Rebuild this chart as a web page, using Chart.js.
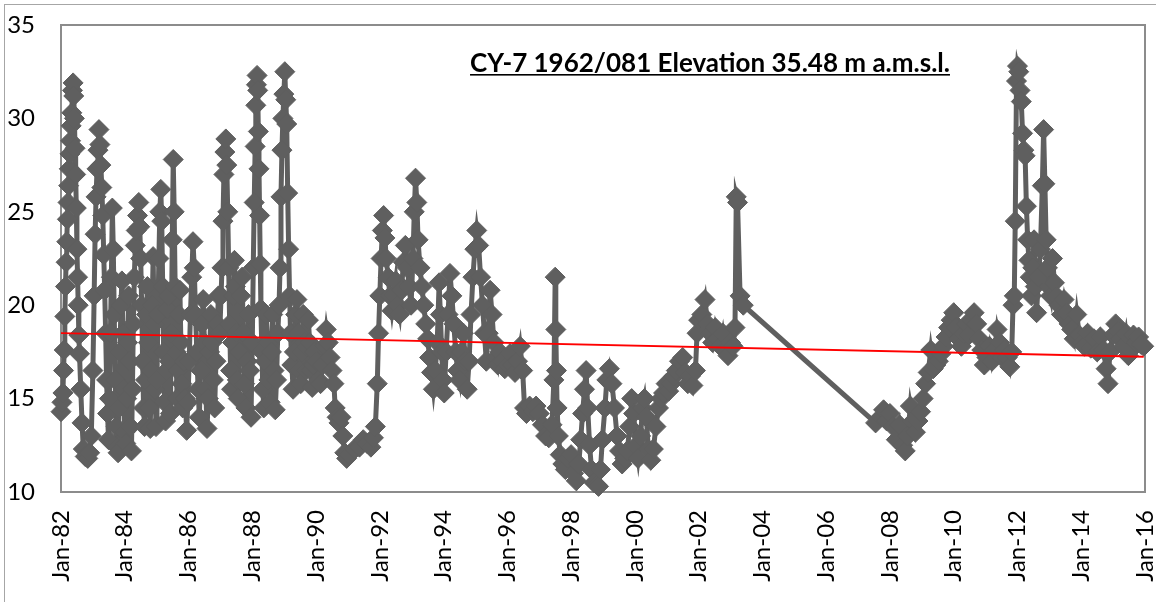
<!DOCTYPE html>
<html>
<head>
<meta charset="utf-8">
<script src="https://cdn.jsdelivr.net/npm/chart.js@4/dist/chart.umd.min.js"></script>
<style>
  html, body { margin: 0; padding: 0; background: #ffffff; }
  #wrap { position: absolute; left: 0; top: 0; width: 1156px; height: 602px; }
</style>
</head>
<body>
<div id="wrap"><canvas id="c" width="1156" height="602"></canvas></div>
<script>
// ---- Data (decimal years, water level) ----
const years = [
1982.00,1982.03,1982.06,1982.08,1982.10,1982.12,1982.14,1982.16,1982.18,1982.20,1982.22,1982.24,1982.26,1982.28,1982.30,1982.32,1982.34,1982.36,1982.38,1982.40,1982.42,1982.44,1982.46,1982.48,1982.50,1982.52,1982.54,1982.56,1982.58,1982.62,1982.66,1982.70,1982.76,1982.84,1982.90,
1982.95,1983.00,1983.04,1983.07,1983.10,1983.13,1983.16,1983.19,1983.22,1983.25,
1983.28,1983.31,1983.34,1983.37,1983.40,1983.43,1983.46,1983.49,1983.52,1983.55,
1983.58,1983.61,1983.64,1983.67,1983.70,1983.73,1983.76,1983.79,1983.82,1983.85,
1983.88,1983.91,1983.94,1983.97,1984.00,1984.03,1984.06,1984.09,1984.12,1984.15,
1984.18,1984.21,1984.24,1984.27,1984.30,1984.33,1984.36,1984.40,1984.44,1984.47,
1984.50,1984.53,1984.56,1984.59,1984.62,1984.65,1984.68,1984.71,1984.74,1984.77,
1984.80,1984.83,1984.86,1984.89,1984.92,1984.95,1984.98,1985.01,1985.04,1985.07,
1985.10,1985.13,1985.16,1985.19,1985.22,1985.25,1985.28,1985.31,1985.34,1985.37,
1985.40,1985.43,1985.46,1985.49,1985.52,1985.55,1985.58,1985.61,1985.64,1985.67,
1985.70,1985.73,1985.76,1985.79,1985.82,1985.86,1985.90,1985.94,1985.98,1986.02,
1986.06,1986.10,1986.14,1986.18,1986.22,1986.26,1986.30,1986.34,1986.38,1986.42,
1986.46,1986.50,1986.54,1986.58,1986.62,1986.66,1986.70,1986.74,1986.78,1986.82,
1986.86,1986.90,1986.94,1986.98,1987.02,1987.05,1987.08,1987.11,1987.14,1987.17,
1987.20,1987.23,1987.26,1987.29,1987.32,1987.35,1987.38,1987.41,1987.44,1987.47,
1987.50,1987.53,1987.56,1987.60,1987.64,1987.68,1987.72,1987.76,1987.80,1987.84,
1987.88,1987.92,1987.96,
1988.00,1988.03,1988.06,1988.09,1988.11,1988.13,1988.15,1988.17,1988.19,1988.21,
1988.23,1988.25,1988.27,1988.30,1988.33,1988.36,1988.40,1988.44,1988.48,1988.52,
1988.56,1988.60,1988.64,1988.68,1988.72,1988.76,1988.80,1988.84,1988.87,1988.90,
1988.93,1988.96,1988.99,1989.02,1989.05,1989.08,1989.11,1989.14,1989.17,1989.20,
1989.24,1989.28,1989.32,1989.36,1989.40,1989.44,1989.48,1989.52,1989.56,1989.60,
1989.64,1989.68,1989.72,1989.76,1989.80,1989.84,1989.88,1989.92,1989.96,
1990.02,1990.08,1990.14,1990.20,1990.26,1990.32,1990.38,1990.44,1990.50,1990.56,1990.60,1990.66,1990.72,1990.78,1990.84,1990.90,1990.96,1991.04,1991.20,1991.36,1991.48,1991.60,1991.72,1991.80,1991.86,1991.92,1991.96,
1992.00,1992.04,1992.08,1992.12,1992.16,1992.20,1992.26,1992.32,1992.38,1992.44,1992.50,1992.56,1992.62,1992.68,1992.74,1992.80,1992.86,1992.92,1992.98,1993.04,1993.08,1993.12,1993.16,1993.20,1993.26,1993.32,1993.38,1993.44,1993.50,1993.56,1993.62,1993.68,1993.74,1993.80,1993.86,1993.90,1993.94,1993.98,
1994.02,1994.08,1994.14,1994.20,1994.26,1994.32,1994.38,1994.44,1994.50,1994.56,1994.62,1994.68,1994.74,1994.80,1994.86,1994.92,1994.98,1995.04,1995.10,1995.16,1995.22,1995.28,1995.34,1995.40,1995.46,1995.52,1995.58,1995.64,1995.70,1995.76,1995.84,1995.92,
1996.00,1996.08,1996.16,1996.24,1996.32,1996.40,1996.48,1996.54,1996.60,1996.70,1996.80,1996.90,1997.00,1997.10,1997.20,1997.30,1997.40,1997.46,1997.50,1997.52,1997.54,1997.56,1997.60,1997.66,1997.74,1997.82,1997.90,
1998.00,1998.08,1998.16,1998.24,1998.30,1998.36,1998.42,1998.47,1998.52,1998.58,1998.64,1998.72,1998.80,1998.86,1998.92,1998.98,1999.06,1999.12,1999.20,1999.28,1999.36,1999.44,1999.52,1999.60,1999.68,1999.76,1999.84,1999.90,1999.96,
2000.04,2000.10,2000.18,2000.24,2000.30,2000.36,2000.42,2000.50,2000.58,2000.66,2000.74,2000.82,2000.90,2000.98,2001.06,2001.14,2001.22,2001.30,2001.40,2001.50,2001.58,2001.66,2001.74,2001.82,2001.90,2001.95,
2002.00,2002.10,2002.20,2002.28,2002.36,2002.44,2002.52,2002.60,2002.68,2002.76,2002.84,2002.92,2003.00,2003.08,2003.14,2003.18,2003.22,2003.30,2003.40,
2007.55,2007.70,2007.80,2007.90,2008.00,2008.10,2008.20,2008.30,2008.40,2008.48,2008.56,2008.64,2008.72,2008.80,2008.88,2008.96,2009.04,2009.12,2009.20,2009.28,2009.36,2009.44,2009.52,2009.60,2009.68,2009.76,2009.84,2009.92,
2010.00,2010.08,2010.16,2010.24,2010.32,2010.40,2010.48,2010.56,2010.64,2010.72,2010.80,2010.88,2010.96,2011.04,2011.12,2011.20,2011.28,2011.36,2011.44,2011.52,2011.60,2011.68,2011.76,2011.82,2011.86,2011.90,2011.93,2011.97,
2012.00,2012.04,2012.08,2012.12,2012.16,2012.20,2012.24,2012.28,2012.32,2012.36,2012.40,2012.44,2012.48,2012.52,2012.56,2012.60,2012.66,2012.72,2012.78,2012.82,2012.86,2012.90,2012.94,2012.98,
2013.04,2013.10,2013.16,2013.22,2013.30,2013.38,2013.46,2013.54,2013.62,2013.70,2013.78,2013.86,2013.94,2014.02,2014.10,2014.20,2014.30,2014.40,2014.50,2014.60,2014.70,2014.78,2014.84,2014.90,
2015.00,2015.08,2015.16,2015.24,2015.32,2015.40,2015.48,2015.56,2015.64,2015.72,2015.80,2015.88,2015.96
];
const levels = [
14.3,14.8,15.3,16.5,17.6,19.4,21.0,22.3,23.4,24.6,25.5,26.4,27.3,28.1,28.8,29.6,30.3,31.5,31.9,31.2,30.0,28.4,27.0,25.2,23.0,21.5,20.0,18.4,17.4,15.5,13.7,12.3,11.9,11.8,12.1,
13.0,16.5,20.5,23.8,25.8,27.3,28.3,29.4,28.6,27.5,
26.3,24.8,22.7,20.8,18.5,16.0,14.2,12.8,15.0,18.5,
21.5,25.2,23.0,19.5,16.0,13.5,12.4,12.1,14.5,17.5,
20.0,21.3,18.5,15.5,13.2,12.6,15.0,18.0,20.5,17.0,
13.5,12.2,15.5,19.0,21.5,23.2,24.0,24.8,25.5,24.2,
22.5,20.0,17.0,14.5,13.5,16.0,19.5,21.0,18.0,14.5,
13.4,16.5,20.0,22.6,19.0,15.5,13.5,16.0,19.5,22.5,
25.0,26.2,24.5,21.0,17.5,14.8,13.8,16.5,19.8,20.5,
17.0,14.2,18.5,23.5,27.8,25.0,21.0,17.5,15.0,16.5,
19.5,20.8,18.0,15.8,14.5,17.0,15.0,13.3,14.8,17.0,
19.5,21.5,23.4,22.0,19.5,17.5,15.5,14.0,16.5,19.0,
20.3,18.0,15.5,13.4,15.0,17.5,19.5,18.0,16.0,14.5,
17.0,19.0,20.5,18.5,20.5,22.0,24.5,27.0,28.2,28.9,
27.5,25.0,22.0,19.0,16.5,15.5,18.0,20.5,22.4,21.0,
18.5,16.0,15.0,17.5,20.5,21.5,18.5,15.8,14.5,17.0,
19.5,16.5,14.0,
18.0,22.0,25.5,28.5,30.7,31.8,32.3,31.5,29.3,27.3,
24.8,22.2,19.8,17.5,15.5,14.5,17.0,19.5,18.0,16.0,
14.8,17.5,19.5,16.5,14.4,16.0,18.5,20.0,22.0,25.8,
28.3,30.0,31.3,32.5,31.0,29.7,26.0,23.0,20.5,18.5,
16.8,15.5,17.5,19.5,20.3,18.5,16.5,15.8,17.5,19.5,
18.0,16.5,17.8,19.2,18.0,16.5,15.6,16.8,17.5,
17.0,16.0,15.8,16.8,17.8,18.7,18.0,17.2,16.5,15.8,14.5,14.0,13.7,14.0,13.0,12.1,11.8,12.0,12.3,12.4,12.8,12.6,12.4,12.9,13.5,15.8,18.5,
20.5,22.5,24.0,24.8,23.6,22.5,21.5,20.5,19.7,20.5,21.3,20.0,19.5,20.8,22.3,23.2,22.0,21.0,20.0,22.5,25.0,26.8,25.5,23.5,22.0,21.0,20.0,19.0,18.2,17.2,16.4,15.5,16.5,18.0,21.2,19.5,17.5,16.0,
15.3,17.5,19.5,21.7,20.5,19.0,17.5,16.5,16.0,17.5,18.5,17.0,15.5,17.0,19.5,21.5,23.0,24.0,23.2,21.5,20.0,18.5,17.0,18.5,20.8,19.5,18.0,17.2,16.8,17.5,17.0,16.6,
16.8,17.4,16.8,16.4,17.0,17.8,16.5,14.5,14.2,14.6,14.3,14.6,14.2,13.6,13.0,12.9,13.6,16.0,21.5,18.7,16.5,14.5,13.0,12.0,11.5,11.2,11.8,
12.0,11.0,10.6,11.5,12.8,14.2,15.5,16.5,14.5,12.5,11.2,10.5,10.4,10.3,11.2,12.8,14.5,16.0,16.6,15.8,14.5,13.0,12.2,11.5,11.8,12.2,13.5,15.0,14.2,
12.5,11.8,13.0,14.5,15.0,14.0,12.3,11.7,12.3,13.5,14.5,15.0,15.3,15.8,15.4,15.8,16.2,16.5,17.0,17.2,16.4,15.8,16.2,15.7,16.5,18.5,
19.2,19.5,20.3,19.0,18.5,18.0,18.8,18.2,17.8,18.5,17.6,17.3,18.0,17.8,18.8,25.8,25.5,20.5,20.0,
13.7,14.0,14.4,13.8,14.2,13.5,12.8,13.6,12.5,12.2,13.0,14.6,13.8,13.2,13.8,14.3,15.0,15.8,16.4,17.6,16.6,16.8,17.0,17.4,17.8,18.3,18.8,19.2,
19.6,18.8,18.2,17.8,18.5,19.0,18.4,19.2,19.6,19.0,18.2,17.6,16.8,17.2,17.8,17.0,17.6,18.7,18.0,17.2,17.6,17.2,16.7,17.5,20.0,20.5,24.5,32.0,
32.8,32.5,31.5,30.9,29.2,28.3,28.0,25.3,23.5,22.4,21.5,20.5,22.0,23.5,21.0,19.6,21.5,23.0,26.4,29.4,26.5,23.5,22.0,21.0,
20.5,22.5,21.2,20.5,20.0,19.5,20.3,19.6,19.0,18.7,18.2,19.5,18.4,18.0,17.8,18.5,17.7,18.2,17.5,18.3,17.6,16.6,15.8,17.5,
18.4,19.0,18.6,18.2,17.8,18.5,17.3,17.6,18.4,18.0,18.3,17.9,17.8
];
// Linear trend line end points
const trendYears = [1982.0, 2015.96];
const trendLevels = [18.51, 17.24];
// Axis ticks
const yTicks = [10, 15, 20, 25, 30, 35];
const xTickYears = [1982,1984,1986,1988,1990,1992,1994,1996,1998,2000,2002,2004,2006,2008,2010,2012,2014,2016];
const titleText = 'CY-7 1962/081 Elevation 35.48 m a.m.s.l.';

const mainPts = years.map((x, i) => ({ x: x, y: levels[i] }));
const trendPts = trendYears.map((x, i) => ({ x: x, y: trendLevels[i] }));

const framePlugin = {
  id: 'frame',
  beforeDraw(chart) {
    const ctx = chart.ctx;
    ctx.save();
    ctx.fillStyle = '#ffffff';
    ctx.fillRect(0, 0, chart.width, chart.height);
    ctx.strokeStyle = '#a6a6a6';
    ctx.lineWidth = 1;
    ctx.strokeRect(4.5, 4.5, chart.width + 20, chart.height + 20);
    ctx.restore();
  },
  beforeDatasetsDraw(chart) {
    const a = chart.chartArea, ctx = chart.ctx;
    ctx.save();
    ctx.strokeStyle = '#8c8c8c';
    ctx.lineWidth = 2;
    ctx.strokeRect(a.left, a.top, a.right - a.left, a.bottom - a.top);
    ctx.restore();
  },
  afterDatasetsDraw(chart) {
    const ctx = chart.ctx;
    ctx.save();
    const targetW = 480;
    ctx.font = 'bold 22px Lato';
    const w0 = ctx.measureText(titleText).width;
    const size = 22 * targetW / w0;
    ctx.font = 'bold ' + size.toFixed(2) + 'px Lato';
    const w = ctx.measureText(titleText).width;
    const x0 = 710 - w / 2;
    const yb = 71.5;
    ctx.fillStyle = '#000000';
    ctx.textBaseline = 'alphabetic';
    ctx.fillText(titleText, x0, yb);
    ctx.fillRect(x0, yb + 2.5, w, 1.6);
    ctx.restore();
  }
};

new Chart(document.getElementById('c'), {
  type: 'scatter',
  data: {
    datasets: [
      {
        label: 'Trend',
        data: trendPts,
        showLine: true,
        borderColor: '#ff0000',
        borderWidth: 1.8,
        pointRadius: 0,
        fill: false,
        clip: false
      },
      {
        label: 'CY-7',
        data: mainPts,
        showLine: true,
        borderColor: '#5f5f5f',
        borderWidth: 5,
        pointStyle: 'rectRot',
        pointRadius: 10,
        pointBackgroundColor: '#5f5f5f',
        pointBorderColor: '#5f5f5f',
        pointBorderWidth: 1,
        fill: false,
        clip: false
      }
    ]
  },
  options: {
    responsive: false,
    animation: false,
    events: [],
    layout: { padding: { top: 25, right: 5, left: 0, bottom: 0 } },
    plugins: { legend: { display: false }, tooltip: { enabled: false }, title: { display: false } },
    scales: {
      x: {
        type: 'linear',
        min: 1982, max: 2016,
        afterFit(s) { s.height = 110; s.paddingLeft = 0; s.paddingRight = 0; },
        afterBuildTicks(s) { s.ticks = xTickYears.map(v => ({ value: v })); },
        grid: { display: false, drawTicks: false },
        border: { display: false },
        ticks: {
          autoSkip: false,
          maxRotation: 90, minRotation: 90,
          padding: 18,
          color: '#000000',
          font: { family: 'Lato', size: 24 },
          callback: v => 'Jan-' + String(v).slice(2)
        }
      },
      y: {
        min: 10, max: 35,
        afterFit(s) { s.width = 61; s.paddingTop = 0; s.paddingBottom = 0; },
        afterBuildTicks(s) { s.ticks = yTicks.map(v => ({ value: v })); },
        grid: { display: false, drawTicks: false },
        border: { display: false },
        ticks: {
          padding: 26,
          color: '#000000',
          font: { family: 'Lato', size: 24 }
        }
      }
    }
  },
  plugins: [framePlugin]
});
</script>
</body>
</html>
